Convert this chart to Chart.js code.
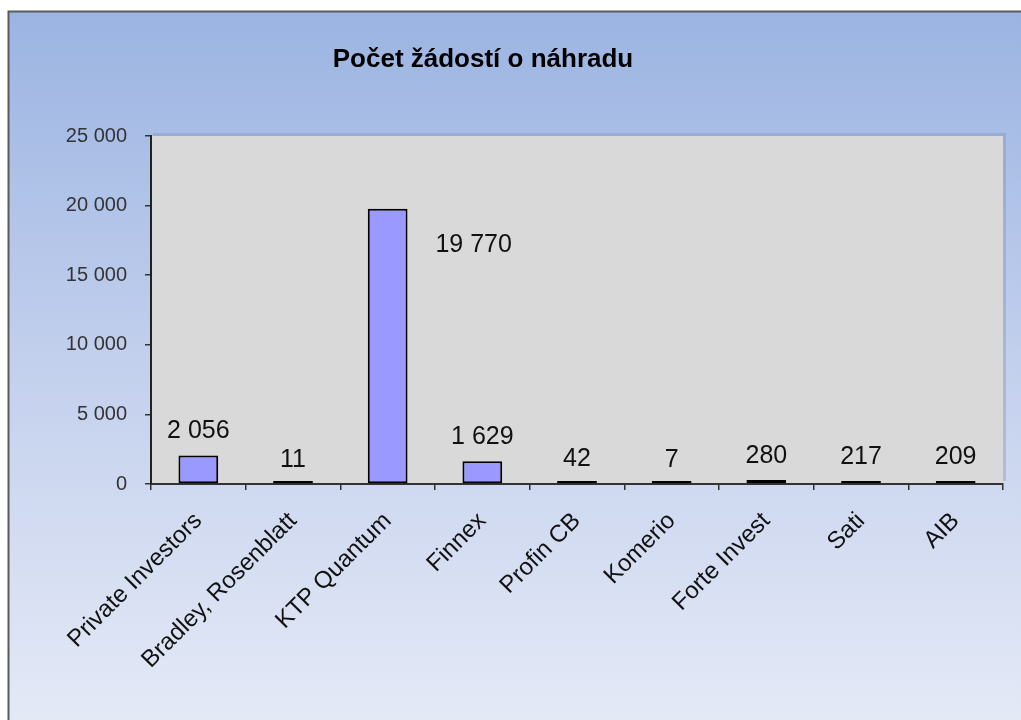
<!DOCTYPE html>
<html>
<head>
<meta charset="utf-8">
<script src="https://cdn.jsdelivr.net/npm/chart.js@4/dist/chart.umd.min.js"></script>
<style>
  html, body { margin: 0; padding: 0; background: #fff; }
  #wrap { width: 1021px; height: 720px; }
</style>
</head>
<body>
<div id="wrap"><canvas id="chart" width="1021" height="720"></canvas></div>
<script>
const titleText = 'Počet žádostí o náhradu';
const categories = ['Private Investors', 'Bradley, Rosenblatt', 'KTP Quantum', 'Finnex', 'Profin CB', 'Komerio', 'Forte Invest', 'Sati', 'AIB'];
const requests = [2056, 11, 19770, 1629, 42, 7, 280, 217, 209];
const yTickValues = [0, 5000, 10000, 15000, 20000, 25000];

const FONT = '"Liberation Sans", Arial, sans-serif';

// čísla s mezerou jako oddělovačem tisíců
const fmt = (v) => String(v).replace(/\B(?=(\d{3})+(?!\d))/g, ' ');

const background = {
  id: 'background',
  beforeDraw(chart) {
    const { ctx, width, height, chartArea: a } = chart;
    ctx.save();
    ctx.fillStyle = '#ffffff';
    ctx.fillRect(0, 0, width, height);
    const g = ctx.createLinearGradient(0, 12, 0, height);
    g.addColorStop(0, '#9bb4e2');
    g.addColorStop(0.5, '#c3d0ed');
    g.addColorStop(1, '#e4e9f6');
    ctx.fillStyle = g;
    ctx.fillRect(9, 12, width - 9, height - 12);
    // rámeček
    ctx.strokeStyle = '#5a5a5a';
    ctx.lineWidth = 2;
    ctx.beginPath();
    ctx.moveTo(8.5, height);
    ctx.lineTo(8.5, 11.5);
    ctx.lineTo(width, 11.5);
    ctx.stroke();
    // plocha grafu se stínem
    ctx.fillStyle = 'rgba(120,140,180,0.35)';
    ctx.fillRect(a.left + 2, a.top - 3, a.right - a.left + 1, a.bottom - a.top);
    ctx.fillStyle = '#d9d9d9';
    ctx.fillRect(a.left, a.top, a.right - a.left, a.bottom - a.top);
    // titulek
    ctx.fillStyle = '#000';
    ctx.font = 'bold 26px ' + FONT;
    ctx.textAlign = 'center';
    ctx.textBaseline = 'alphabetic';
    ctx.fillText(titleText, 483, 67);
    ctx.restore();
  }
};

const valueLabels = {
  id: 'valueLabels',
  afterDatasetsDraw(chart) {
    const { ctx } = chart;
    const meta = chart.getDatasetMeta(0);
    ctx.save();
    ctx.fillStyle = '#111';
    ctx.font = '25px ' + FONT;
    ctx.textAlign = 'center';
    ctx.textBaseline = 'alphabetic';
    meta.data.forEach((bar, i) => {
      const y = chart.scales.y.getPixelForValue(requests[i]);
      if (i === 2) {
        // popisek vysokého sloupce je posunutý vedle sloupce
        ctx.fillText(fmt(requests[i]), bar.x + 86, y + 43);
      } else {
        ctx.fillText(fmt(requests[i]), bar.x, y - 17);
      }
    });
    ctx.restore();
  }
};

new Chart(document.getElementById('chart'), {
  type: 'bar',
  data: {
    labels: categories,
    datasets: [{
      data: requests,
      backgroundColor: '#9999ff',
      borderColor: '#000000',
      borderWidth: 2,
      borderSkipped: false,
      minBarLength: 3,
      barPercentage: 0.42,
      categoryPercentage: 1
    }]
  },
  options: {
    responsive: false,
    animation: false,
    layout: { padding: { top: 136, right: 18, left: 0, bottom: 0 } },
    plugins: {
      legend: { display: false },
      title: { display: false },
      tooltip: { enabled: false }
    },
    scales: {
      x: {
        afterFit(scale) { scale.height = 236; },
        grid: {
          offset: true,
          drawOnChartArea: false,
          drawTicks: true,
          tickLength: 6,
          color: '#333',
          lineWidth: 1.5
        },
        border: { color: '#333', width: 2 },
        ticks: {
          minRotation: 45,
          maxRotation: 45,
          padding: 17,
          color: '#111',
          font: { family: FONT, size: 24 }
        }
      },
      y: {
        min: 0,
        max: 25000,
        afterFit(scale) { scale.width = 151; },
        afterBuildTicks(scale) { scale.ticks = yTickValues.map((v) => ({ value: v })); },
        grid: {
          drawOnChartArea: false,
          drawTicks: true,
          tickLength: 6,
          color: '#333',
          lineWidth: 1.5
        },
        border: { color: '#222', width: 2 },
        ticks: {
          padding: 18,
          color: '#333',
          font: { family: FONT, size: 20 },
          callback: (v) => fmt(v)
        }
      }
    }
  },
  plugins: [background, valueLabels]
});
</script>
</body>
</html>
